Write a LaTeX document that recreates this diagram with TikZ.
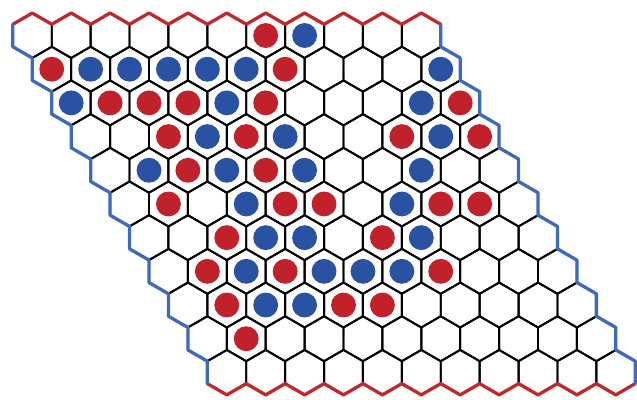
\documentclass[tikz,border=0pt]{standalone}
\usepackage{xcolor}
\usepackage{tikz}
\usetikzlibrary{calc}
\definecolor{HexRed}{HTML}{C0212B}
\definecolor{HexBlue}{HTML}{2A52A2}
\definecolor{HexEdgeRed}{HTML}{C0282E}
\definecolor{HexEdgeBlue}{HTML}{3E6ABD}
\def\hs{0.57735}

\begin{document}
\begin{tikzpicture}[
  x=1cm,
  y=1cm,
  cell/.style={draw=black, line width=1.4pt, line join=round},
  edge/.style={line width=2.4pt, line join=round, line cap=round},
  stone/.style={draw=none}
]
\useasboundingbox (-0.830,0.913) rectangle (15.545,-9.344);

% cell centres and the black grid
\foreach \r in {0,...,10}
  \foreach \c in {0,...,10}
    \coordinate (h-\r-\c) at (\c+0.5*\r,-0.866*\r);
\foreach \r in {0,...,10}
  \foreach \c in {0,...,10}
    \draw[cell] (h-\r-\c) +(30:\hs) -- +(90:\hs) -- +(150:\hs) -- +(210:\hs)
      -- +(270:\hs) -- +(330:\hs) -- cycle;

% red sides, top and bottom
\draw[edge, HexEdgeRed] ($(h-0-0)+(150:\hs)$)
  \foreach \c in {0,...,10} {-- ($(h-0-\c)+(90:\hs)$) -- ($(h-0-\c)+(30:\hs)$)};
\draw[edge, HexEdgeRed] ($(h-10-0)+(210:\hs)$)
  \foreach \c in {0,...,10} {-- ($(h-10-\c)+(270:\hs)$) -- ($(h-10-\c)+(330:\hs)$)};

% blue sides, left and right
\draw[edge, HexEdgeBlue] ($(h-0-0)+(150:\hs)$)
  \foreach \r in {0,...,9} {-- ($(h-\r-0)+(210:\hs)$) -- ($(h-\r-0)+(270:\hs)$)}
  -- ($(h-10-0)+(210:\hs)$);
\draw[edge, HexEdgeBlue] ($(h-0-10)+(30:\hs)$) -- ($(h-0-10)+(330:\hs)$)
  \foreach \r in {1,...,10} {-- ($(h-\r-10)+(30:\hs)$) -- ($(h-\r-10)+(330:\hs)$)};

% stones
\foreach \r/\c in {0/6, 1/0,1/6, 2/1,2/2,2/3,2/5,2/10, 3/2,3/4,3/8,3/10,
    4/2,4/4, 5/1,5/4,5/5,5/8,5/9, 6/2,6/6, 7/1,7/3,7/7, 8/1,8/4,8/5, 9/1}
  \fill[stone, HexRed] (h-\r-\c) circle (0.32);
\foreach \r/\c in {0/7, 1/1,1/2,1/3,1/4,1/5,1/10, 2/0,2/4,2/9, 3/3,3/5,3/9,
    4/1,4/3,4/5,4/8, 5/3,5/7, 6/3,6/4,6/7, 7/2,7/4,7/5,7/6, 8/2,8/3}
  \fill[stone, HexBlue] (h-\r-\c) circle (0.32);
\end{tikzpicture}
\end{document}
